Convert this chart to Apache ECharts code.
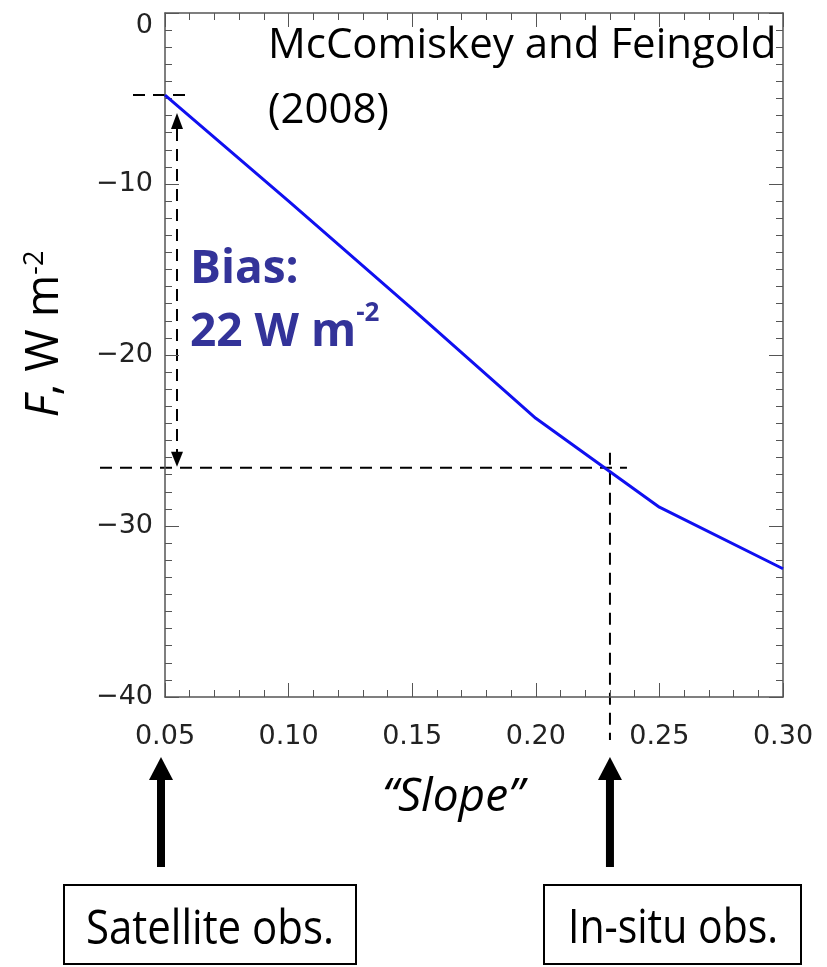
<!DOCTYPE html>
<html>
<head>
<meta charset="utf-8">
<script src="https://cdn.jsdelivr.net/npm/echarts@6/dist/echarts.min.js"></script>
<style>
  html, body { margin: 0; padding: 0; background: #fff; }
  #chart { width: 827px; height: 967px; }
</style>
</head>
<body>
<div id="chart"></div>
<script>
// data
const slope = [0.05, 0.10, 0.15, 0.20, 0.25, 0.30];
const forcing = [-4.8, -11.0, -17.3, -23.7, -28.9, -32.5];
const xTicks = [0.05, 0.10, 0.15, 0.20, 0.25, 0.30];
const yTicks = [0, -10, -20, -30, -40];
const satSlope = 0.05, satF = -4.8;
const insituSlope = 0.23, insituF = -26.6;

const font = '"Open Sans", "Noto Sans", sans-serif';
const tickFont = '"DejaVu Sans", sans-serif';
const axisGray = '#555';

const chart = echarts.init(document.getElementById('chart'));

const yFmt = v => {
  if (v === 0) return '{z|0}';
  return v < 0 ? '\u2212' + (-v) : '' + v;
};

const xMin = xTicks[0], xMax = xTicks[xTicks.length - 1];
const yMin = yTicks[yTicks.length - 1], yMax = yTicks[0];
const box = { left: 165, right: 44, top: 13, bottom: 270 };

// every tick layer lives in its own overlapping grid, so no two axes share a side
function axis(grid, pos, min, max, step, len) {
  return {
    type: 'value', gridIndex: grid, position: pos, min: min, max: max, interval: step,
    axisLine: { show: len === 0, onZero: false, lineStyle: { color: axisGray, width: 1.5 } },
    axisTick: { show: len > 0, inside: true, length: len, lineStyle: { color: axisGray, width: 1 } },
    axisLabel: { show: false },
    splitLine: { show: false }
  };
}
// [xPos, yPos, xStep, yStep, tickLength]
const layers = [
  ['bottom', 'left', 0.05, 10, 0],
  ['bottom', 'left', 0.05, 10, 14],
  ['bottom', 'left', 0.01, 1, 7],
  ['top', 'right', 0.05, 10, 14],
  ['top', 'right', 0.01, 1, 7],
  ['top', 'right', 0.05, 10, 0]
];

const xAxes = layers.map((l, i) => axis(i, l[0], xMin, xMax, l[2], l[4]));
const yAxes = layers.map((l, i) => axis(i, l[1], yMin, yMax, l[3], l[4]));
Object.assign(xAxes[0], {
  axisLabel: { show: true, fontFamily: tickFont, fontSize: 27, color: '#222', margin: 26,
    formatter: v => v.toFixed(2) },
  name: '\u201cSlope\u201d', nameLocation: 'middle', nameGap: 78,
  nameTextStyle: { fontFamily: font, fontStyle: 'italic', fontSize: 46, color: '#000',
    padding: [0, 42, 0, 0] }
});
Object.assign(yAxes[0], {
  axisLabel: { show: true, fontFamily: tickFont, fontSize: 27, color: '#222', margin: 12,
    formatter: yFmt,
    rich: { z: { fontFamily: tickFont, fontSize: 27, color: '#222', padding: [26, 0, 0, 0] } } }
});

chart.setOption({
  animation: false,
  grid: layers.map(() => Object.assign({}, box)),
  xAxis: xAxes,
  yAxis: yAxes,
  series: [{
    type: 'line',
    xAxisIndex: 0, yAxisIndex: 0,
    data: slope.map((s, i) => [s, forcing[i]]),
    showSymbol: false,
    lineStyle: { color: '#1010f0', width: 3 },
    z: 5
  }]
});

// annotation overlay, positioned from data coordinates
const px = (x, y) => chart.convertToPixel({ xAxisIndex: 0, yAxisIndex: 0 }, [x, y]);
const pSat = px(satSlope, satF);
const pIn = px(insituSlope, insituF);
const p0 = px(xMin, yMin);
const dash = { stroke: '#000', lineWidth: 2, lineDash: [12, 8] };

function upArrow(x, yTop, yBot) {
  return [
    { type: 'rect', shape: { x: x - 4, y: yTop + 20, width: 8, height: yBot - yTop - 20 }, style: { fill: '#000' } },
    { type: 'polygon', shape: { points: [[x, yTop], [x - 12, yTop + 23], [x + 12, yTop + 23]] }, style: { fill: '#000' } }
  ];
}

const arrX = pSat[0] + 12;
chart.setOption({
  graphic: [
    // y axis title
    { type: 'text', x: 45, y: 334, rotation: Math.PI / 2, style: {
        text: '{i|F}{n|, W m}{s|-2}', align: 'center', verticalAlign: 'middle',
        rich: {
          i: { fontFamily: font, fontStyle: 'italic', fontSize: 46, color: '#000' },
          n: { fontFamily: font, fontSize: 46, color: '#000' },
          s: { fontFamily: font, fontSize: 27, color: '#000', verticalAlign: 'top', padding: [0, 0, 20, 0] }
        } } },
    // horizontal dashed guide lines
    { type: 'line', shape: { x1: 133, y1: pSat[1], x2: 193, y2: pSat[1] }, style: dash },
    { type: 'line', shape: { x1: 100, y1: pIn[1], x2: pIn[0] + 17, y2: pIn[1] }, style: dash },
    // vertical dashed guide at in-situ slope
    { type: 'line', shape: { x1: pIn[0], y1: pIn[1] - 15, x2: pIn[0], y2: p0[1] + 43 }, style: dash },
    // double-headed bias arrow
    { type: 'line', shape: { x1: arrX, y1: pSat[1] + 34, x2: arrX, y2: pIn[1] - 15 }, style: dash },
    { type: 'polygon', shape: { points: [[arrX, pSat[1] + 18], [arrX - 6, pSat[1] + 34], [arrX + 6, pSat[1] + 34]] }, style: { fill: '#000' } },
    { type: 'polygon', shape: { points: [[arrX, pIn[1] - 1], [arrX - 6, pIn[1] - 16], [arrX + 6, pIn[1] - 16]] }, style: { fill: '#000' } },
    // labels
    { type: 'text', x: 268, y: 14, style: {
        text: 'McComiskey and Feingold\n(2008)', fontFamily: font, fontSize: 42,
        lineHeight: 65, fill: '#000' } },
    { type: 'text', x: 190, y: 238, style: {
        text: '{b|Bias:}\n{b|22 W m}{s|-2}', fill: '#333399',
        rich: {
          b: { fontFamily: font, fontWeight: 'bold', fontSize: 46, color: '#333399', lineHeight: 63 },
          s: { fontFamily: font, fontWeight: 'bold', fontSize: 26, color: '#333399', verticalAlign: 'top', padding: [0, 0, 18, 0] }
        } } },
    // bottom arrows and boxes
    ...upArrow(pSat[0] - 4, 757, 867),
    ...upArrow(pIn[0], 757, 867),
    { type: 'rect', shape: { x: 64, y: 885, width: 292, height: 79 }, style: { fill: '#fff', stroke: '#000', lineWidth: 2 } },
    { type: 'text', x: 210, y: 930, scaleY: 1.15, style: { text: 'Satellite obs.', fontFamily: font, fontSize: 42, fill: '#000', align: 'center', verticalAlign: 'middle' } },
    { type: 'rect', shape: { x: 544, y: 885, width: 257, height: 79 }, style: { fill: '#fff', stroke: '#000', lineWidth: 2 } },
    { type: 'text', x: 673, y: 930, scaleY: 1.15, style: { text: 'In-situ obs.', fontFamily: font, fontSize: 41, fill: '#000', align: 'center', verticalAlign: 'middle' } }
  ]
});
</script>
</body>
</html>
